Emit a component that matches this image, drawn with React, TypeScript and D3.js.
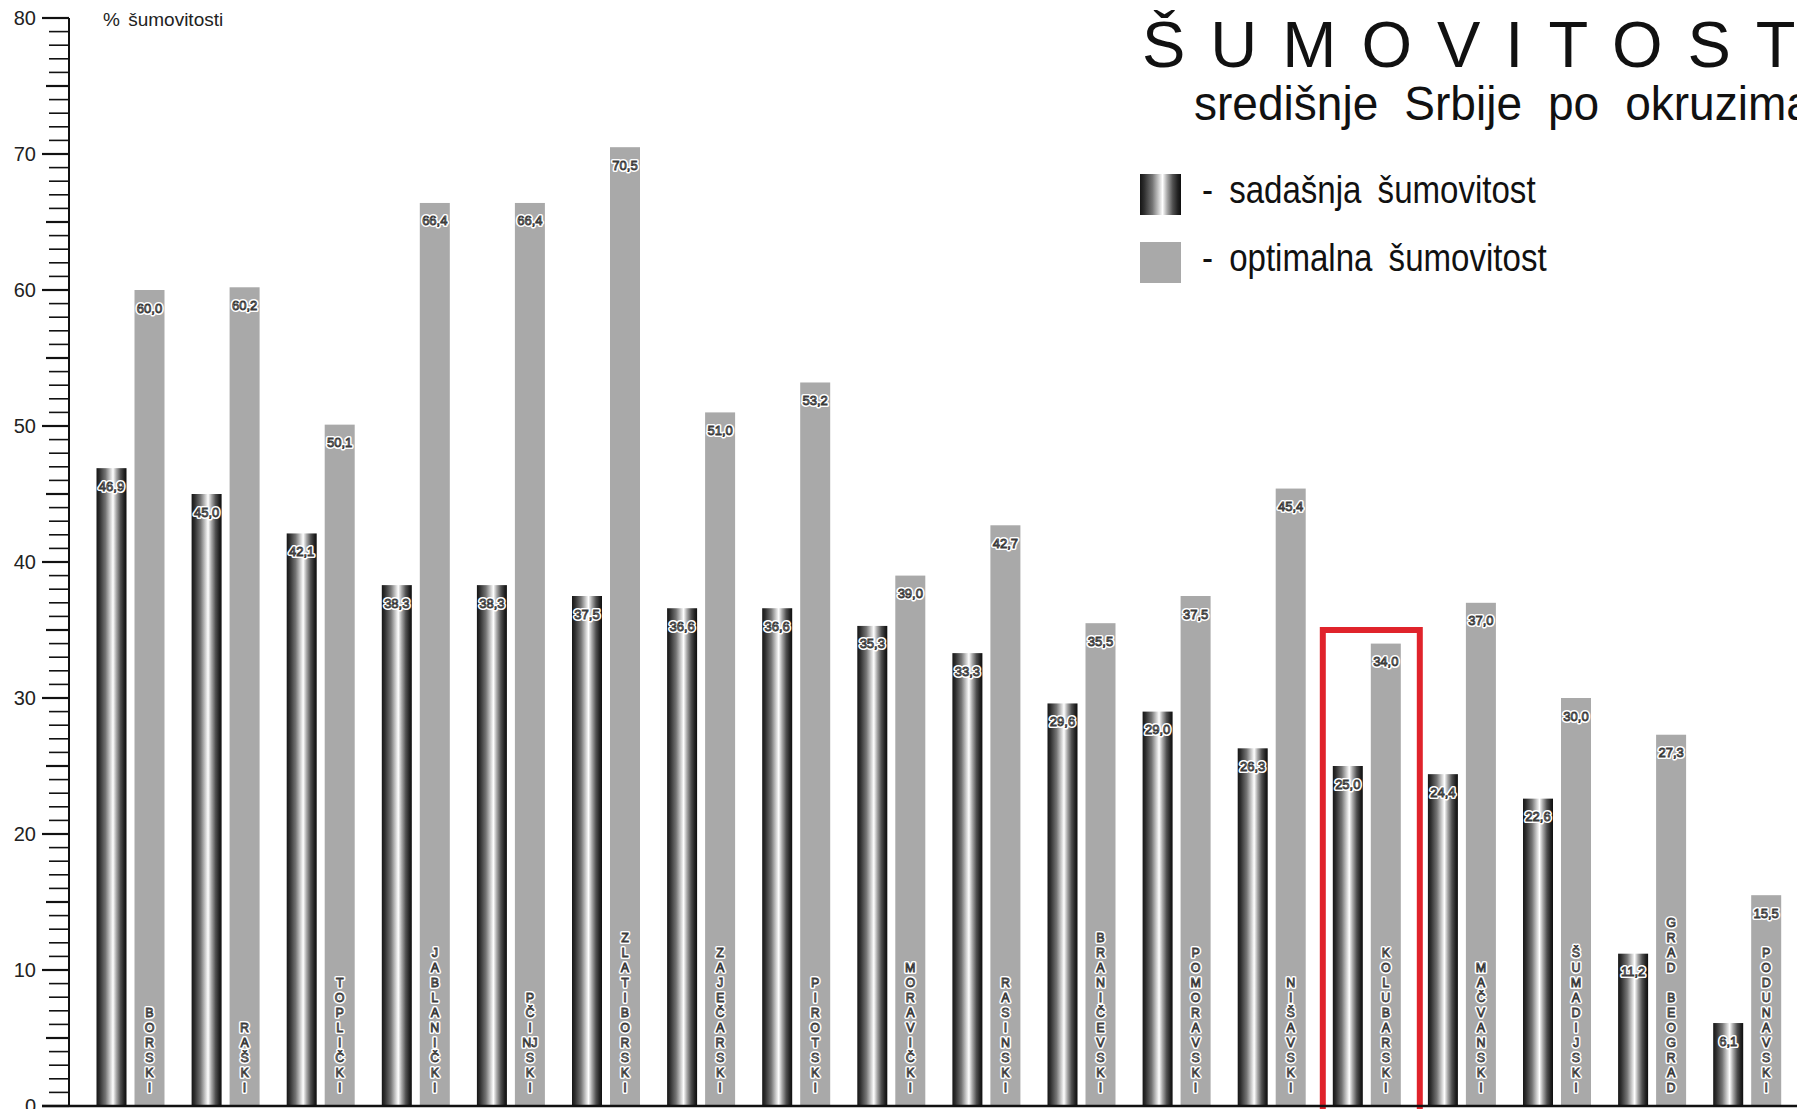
import React from "react";
import * as d3 from "d3";

const districts = [
  "BORSKI", "RAŠKI", "TOPLIČKI", "JABLANIČKI", "PČINJSKI", "ZLATIBORSKI",
  "ZAJEČARSKI", "PIROTSKI", "MORAVIČKI", "RASINSKI", "BRANIČEVSKI", "POMORAVSKI",
  "NIŠAVSKI", "KOLUBARSKI", "MAČVANSKI", "ŠUMADIJSKI", "GRAD BEOGRAD", "PODUNAVSKI",
];
const currentForest = [46.9, 45.0, 42.1, 38.3, 38.3, 37.5, 36.6, 36.6, 35.3, 33.3, 29.6, 29.0, 26.3, 25.0, 24.4, 22.6, 11.2, 6.1];
const optimalForest = [60.0, 60.2, 50.1, 66.4, 66.4, 70.5, 51.0, 53.2, 39.0, 42.7, 35.5, 37.5, 45.4, 34.0, 37.0, 30.0, 27.3, 15.5];
const majorTicks = [0, 10, 20, 30, 40, 50, 60, 70, 80];
const highlighted = "KOLUBARSKI";
const highlightValue = 35;
const titleText = "ŠUMOVITOSTI";
const subtitleText = "središnje Srbije po okruzima";
const legendLabels = ["- sadašnja šumovitost", "- optimalna šumovitost"];
const yAxisTitle = "% šumovitosti";

const W = 1797;
const H = 1109;
const FONT = "'Liberation Sans', Arial, Helvetica, sans-serif";

const fmt = (v: number) => v.toFixed(1).replace(".", ",");
const splitLetters = (s: string) => s.match(/NJ|./gsu) || [];

export default function App() {
  const y = d3.scaleLinear().domain([0, 80]).range([1106, 18]);
  const x = d3.scaleBand<string>().domain(districts).range([63.5, 63.5 + 18 * 95.1]).paddingInner(0).paddingOuter(0);
  const barW = 30;
  const darkOff = 33;
  const lightOff = 71;

  const minorTicks = d3.range(0, 81, 1);

  const outlineText = (key: string, tx: number, ty: number, txt: string, size: number) => (
    <g key={key}>
      <text x={tx} y={ty} fontSize={size} fontFamily={FONT} textAnchor="middle" dominantBaseline="central"
        fill="none" stroke="#ffffff" strokeWidth={4} strokeLinejoin="round">{txt}</text>
      <text x={tx} y={ty} fontSize={size} fontFamily={FONT} textAnchor="middle" dominantBaseline="central"
        fill="#f4f4f4" stroke="#3a3a3a" strokeWidth={0.9}>{txt}</text>
    </g>
  );

  const hx = (x(highlighted) as number);

  return (
    <svg width={W} height={H} viewBox={`0 0 ${W} ${H}`} style={{ position: "absolute", left: 0, top: 0, background: "#fff" }}>
      <defs>
        <linearGradient id="cyl" x1="0" x2="1" y1="0" y2="0">
          <stop offset="0" stopColor="#151515" />
          <stop offset="0.1" stopColor="#2e2e2e" />
          <stop offset="0.3" stopColor="#747474" />
          <stop offset="0.45" stopColor="#c8c8c8" />
          <stop offset="0.55" stopColor="#ffffff" />
          <stop offset="0.66" stopColor="#aaaaaa" />
          <stop offset="0.8" stopColor="#505050" />
          <stop offset="0.92" stopColor="#222222" />
          <stop offset="1" stopColor="#0e0e0e" />
        </linearGradient>
      </defs>
      <rect x={0} y={0} width={W} height={H} fill="#fff" />

      {/* bars */}
      {districts.map((d, i) => {
        const bx = x(d) as number;
        const v1 = currentForest[i];
        const v2 = optimalForest[i];
        return (
          <g key={d}>
            <rect x={bx + darkOff} y={y(v1)} width={barW} height={y(0) - y(v1)} fill="url(#cyl)" />
            <rect x={bx + lightOff} y={y(v2)} width={barW} height={y(0) - y(v2)} fill="#a9a9a9" />
          </g>
        );
      })}

      {/* value labels */}
      {districts.map((d, i) => {
        const bx = x(d) as number;
        return (
          <g key={"lab" + d}>
            {outlineText("a" + i, bx + darkOff + barW / 2, y(currentForest[i]) + 18, fmt(currentForest[i]), 13)}
            {outlineText("b" + i, bx + lightOff + barW / 2, y(optimalForest[i]) + 18, fmt(optimalForest[i]), 13)}
          </g>
        );
      })}

      {/* vertical district names */}
      {districts.map((d) => {
        const bx = x(d) as number;
        const letters = splitLetters(d);
        const n = letters.length;
        return (
          <g key={"n" + d}>
            {letters.map((ch, k) =>
              ch === " " ? null : outlineText(d + k, bx + lightOff + barW / 2, 1088 - (n - 1 - k) * 15, ch, 12.5)
            )}
          </g>
        );
      })}

      {/* highlight box */}
      <rect x={hx + 23} y={y(highlightValue)} width={97} height={H - y(highlightValue) + 10}
        fill="none" stroke="#e0232b" strokeWidth={6} />

      {/* y axis */}
      <line x1={69} x2={69} y1={y(80)} y2={y(0)} stroke="#111" strokeWidth={2} />
      {minorTicks.map((t) => {
        const major = t % 10 === 0;
        const mid = !major && t % 5 === 0;
        const x1 = major ? 42 : mid ? 46 : 49;
        return <line key={"t" + t} x1={x1} x2={69} y1={y(t)} y2={y(t)} stroke="#111" strokeWidth={major || mid ? 2.2 : 1.6} />;
      })}
      {majorTicks.map((t) => (
        <text key={"l" + t} x={36} y={y(t)} fontSize={20} fontFamily={FONT} textAnchor="end" dominantBaseline="central" fill="#222">{t}</text>
      ))}
      <line x1={42} x2={W} y1={y(0)} y2={y(0)} stroke="#111" strokeWidth={2.5} />
      <text x={103} y={26} fontSize={19} fontFamily={FONT} fill="#222" wordSpacing={3}>{yAxisTitle}</text>

      {/* title */}
      <text x={1142} y={67} fontSize={65} fontFamily={FONT} fill="#111" letterSpacing={25}>{titleText}</text>
      <g transform="translate(1194,120) scale(0.94,1)">
        <text x={0} y={0} fontSize={49} fontFamily={FONT} fill="#111" wordSpacing={14}>{subtitleText}</text>
      </g>

      {/* legend */}
      <rect x={1140} y={174} width={41} height={41} fill="url(#cyl)" />
      <rect x={1140} y={242} width={41} height={41} fill="#a9a9a9" />
      <g transform="translate(1202,203) scale(0.87,1)">
        <text x={0} y={0} fontSize={38} fontFamily={FONT} fill="#111" wordSpacing={8}>{legendLabels[0]}</text>
      </g>
      <g transform="translate(1202,271) scale(0.87,1)">
        <text x={0} y={0} fontSize={38} fontFamily={FONT} fill="#111" wordSpacing={8}>{legendLabels[1]}</text>
      </g>
    </svg>
  );
}
